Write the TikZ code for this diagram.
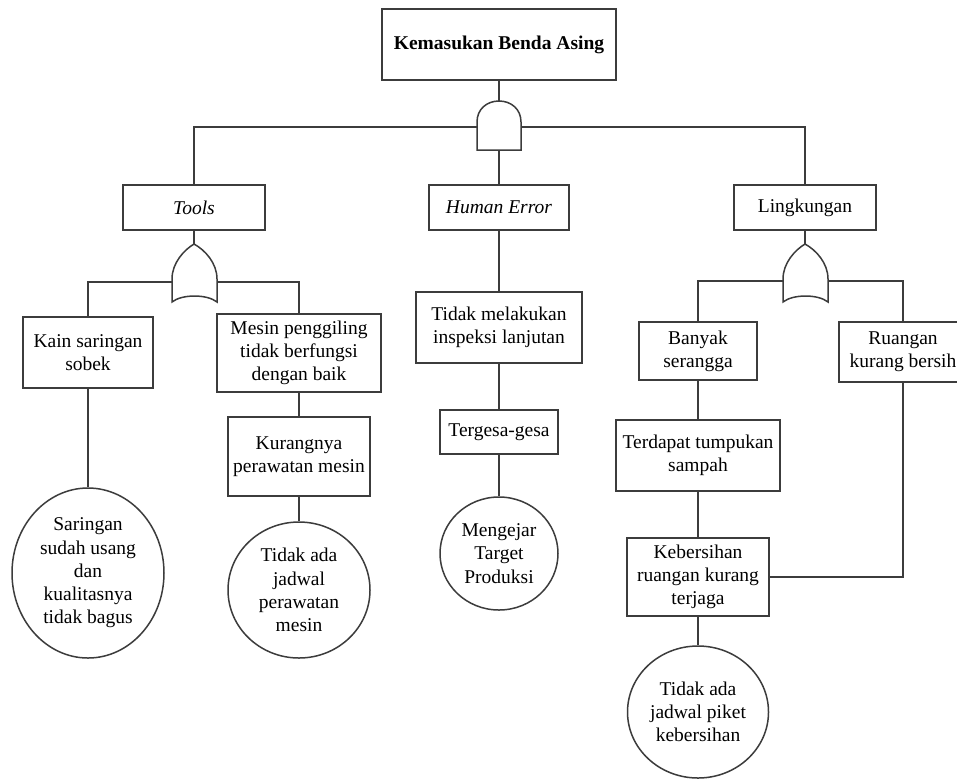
\documentclass[tikz,border=0pt]{standalone}
\usepackage{fontspec}
\setmainfont{Liberation Serif}
\usetikzlibrary{shapes.geometric}
\definecolor{lc}{RGB}{60,60,60}
\begin{document}
\begin{tikzpicture}[x=1pt,y=-1pt,
  every node/.style={font=\fontsize{19.5}{23.3}\selectfont, align=center, inner sep=0pt},
  evbox/.style={draw=lc, line width=1.5pt, rectangle, fill=white},
  evcirc/.style={draw=lc, line width=1.5pt, ellipse, fill=white},
  conn/.style={draw=lc, line width=1.5pt},
  gatestyle/.style={draw=lc, line width=1.5pt, fill=white}]
\useasboundingbox (0,0) rectangle (957,780);
\fill[white] (0,0) rectangle (957,780);

% nodes
\node[evbox, minimum width=234pt, minimum height=71pt] (top) at (499,44.5) {\textbf{Kemasukan Benda Asing}};
\node[evbox, minimum width=142pt, minimum height=45pt] (tools) at (194,207.5) {\textit{Tools}};
\node[evbox, minimum width=140pt, minimum height=45pt] (human) at (499,207.5) {\textit{Human Error}};
\node[evbox, minimum width=142pt, minimum height=45pt] (lingk) at (805,207.5) {Lingkungan};

\node[evbox, minimum width=130pt, minimum height=71pt] (kain) at (88,352.5) {Kain saringan\\sobek};
\node[evbox, minimum width=164pt, minimum height=78pt] (mesin) at (299,353) {Mesin penggiling\\tidak berfungsi\\dengan baik};
\node[evbox, minimum width=142pt, minimum height=79pt] (kurang) at (299,456.5) {Kurangnya\\perawatan mesin};
\node[evcirc, minimum width=152pt, minimum height=170pt] (c1) at (88,573) {Saringan\\sudah usang\\dan\\kualitasnya\\tidak bagus};
\node[evcirc, minimum width=142pt, minimum height=136pt] (c2) at (299,590) {Tidak ada\\jadwal\\perawatan\\mesin};

\node[evbox, minimum width=166pt, minimum height=71pt] (inspeksi) at (499,327.5) {Tidak melakukan\\inspeksi lanjutan};
\node[evbox, minimum width=118pt, minimum height=44pt] (tergesa) at (499,432) {Tergesa-gesa};
\node[evcirc, minimum width=118pt, minimum height=113pt] (c3) at (499,553.5) {Mengejar\\Target\\Produksi};

\node[evbox, minimum width=118pt, minimum height=58pt] (banyak) at (698,351) {Banyak\\serangga};
\node[evbox, minimum width=128pt, minimum height=60pt] (ruangan) at (903,352) {Ruangan\\kurang bersih};
\node[evbox, minimum width=164pt, minimum height=71pt] (sampah) at (698,455.5) {Terdapat tumpukan\\sampah};
\node[evbox, minimum width=142pt, minimum height=78pt] (keb) at (698,577) {Kebersihan\\ruangan kurang\\terjaga};
\node[evcirc, minimum width=141pt, minimum height=132pt] (c4) at (698,712) {Tidak ada\\jadwal piket\\kebersihan};

% gate coordinates
\coordinate (gAtop) at (499,101);
\coordinate (gAbot) at (499,150);
\coordinate (gAL) at (477,127);
\coordinate (gAR) at (521,127);
\coordinate (gTtop) at (194,244);
\coordinate (gTL) at (172,282);
\coordinate (gTR) at (217,282);
\coordinate (gLtop) at (805,244);
\coordinate (gLL) at (783,281);
\coordinate (gLR) at (828,281);

% connectors
\draw[conn] (top.south) -- (gAtop);
\draw[conn] (tools.north) |- (gAL);
\draw[conn] (gAR) -| (lingk.north);
\draw[conn] (gAbot) -- (human.north);
\draw[conn] (human.south) -- (inspeksi.north);
\draw[conn] (inspeksi.south) -- (tergesa.north);
\draw[conn] (tergesa.south) -- (c3.north);

\draw[conn] (tools.south) -- (gTtop);
\draw[conn] (kain.north) |- (gTL);
\draw[conn] (gTR) -| (mesin.north);
\draw[conn] (kain.south) -- (c1.north);
\draw[conn] (mesin.south) -- (kurang.north);
\draw[conn] (kurang.south) -- (c2.north);

\draw[conn] (lingk.south) -- (gLtop);
\draw[conn] (banyak.north) |- (gLL);
\draw[conn] (gLR) -| (ruangan.north);
\draw[conn] (banyak.south) -- (sampah.north);
\draw[conn] (sampah.south) -- (keb.north);
\draw[conn] (keb.south) -- (c4.north);
\draw[conn] (keb.east) -| (ruangan.south);

% AND gate
\draw[gatestyle] (477,150) -- (477,122) .. controls (477,109) and (487,101) .. (499,101)
  .. controls (511,101) and (521,109) .. (521,122) -- (521,150) -- cycle;

% OR gates
\draw[gatestyle] (172,302) -- (172,279) .. controls (172,263) and (184,250) .. (194,244)
  .. controls (205,250) and (217,263) .. (217,279) -- (217,302)
  .. controls (207,294) and (182,294) .. (172,302) -- cycle;
\draw[gatestyle] (783,302) -- (783,279) .. controls (783,263) and (795,250) .. (805,244)
  .. controls (816,250) and (828,263) .. (828,279) -- (828,302)
  .. controls (818,294) and (793,294) .. (783,302) -- cycle;
\end{tikzpicture}
\end{document}
